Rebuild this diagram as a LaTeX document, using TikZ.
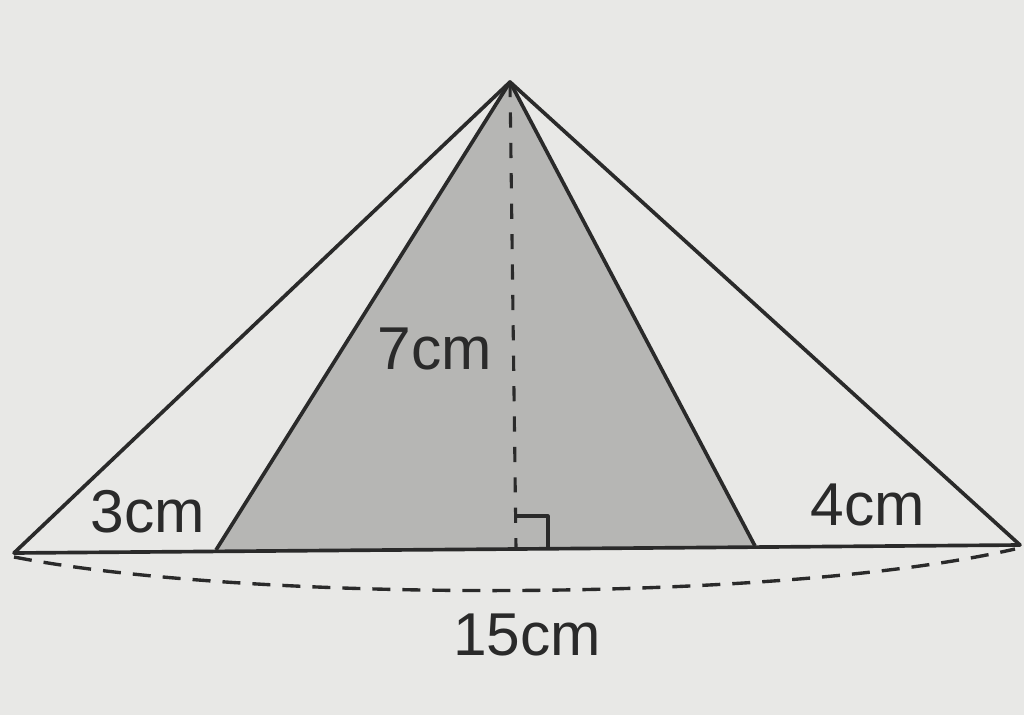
\documentclass[tikz,border=0pt]{standalone}
\usepackage{fontspec}
\setmainfont{Liberation Sans}
\usepackage{tikz}
\usetikzlibrary{calc}

\definecolor{paper}{HTML}{E8E8E6}
\definecolor{trigray}{HTML}{B6B6B4}
\definecolor{ink}{HTML}{2A2A2A}

\begin{document}
\begin{tikzpicture}[x=0.025cm, y=-0.025cm,
    edge/.style={draw=ink, line width=2.6pt, line join=round},
    measure/.style={draw=ink, line width=2.4pt, dash pattern=on 0.45cm off 0.3cm},
    height/.style={draw=ink, line width=2.2pt, dash pattern=on 0.38cm off 0.38cm},
    lbl/.style={text=ink, font=\fontsize{43}{48}\selectfont, inner sep=0pt}]
    \fill[paper] (0,0) rectangle (1024,715);

    \coordinate (A) at (14,553);
    \coordinate (B) at (1020,545);
    \coordinate (T) at (510,82);
    \coordinate (P) at (216,550);
    \coordinate (Q) at (755,546);
    \coordinate (H) at (516,548);

    \fill[trigray] (P) -- (T) -- (Q) -- cycle;

    \draw[height] (T) -- (H);
    \draw[edge, line width=2.2pt] ($(H)+(0,-32)$) -- ++(32,0) -- ++(0,32);

    \draw[edge] (A) -- (B) -- (T) -- cycle;
    \draw[edge] (P) -- (T) -- (Q);

    \draw[measure] ($(A)+(0,4)$) .. controls (250,603) and (780,603) .. ($(B)+(-5,4)$);

    \node[lbl] (lbl3) at (148,512) {3cm};
    \node[lbl] (lbl4) at (868,505) {4cm};
    \node[lbl] (lbl7) at (435,349) {7cm};
    \node[lbl] (lbl15) at (527,635) {15cm};
\end{tikzpicture}
\end{document}
